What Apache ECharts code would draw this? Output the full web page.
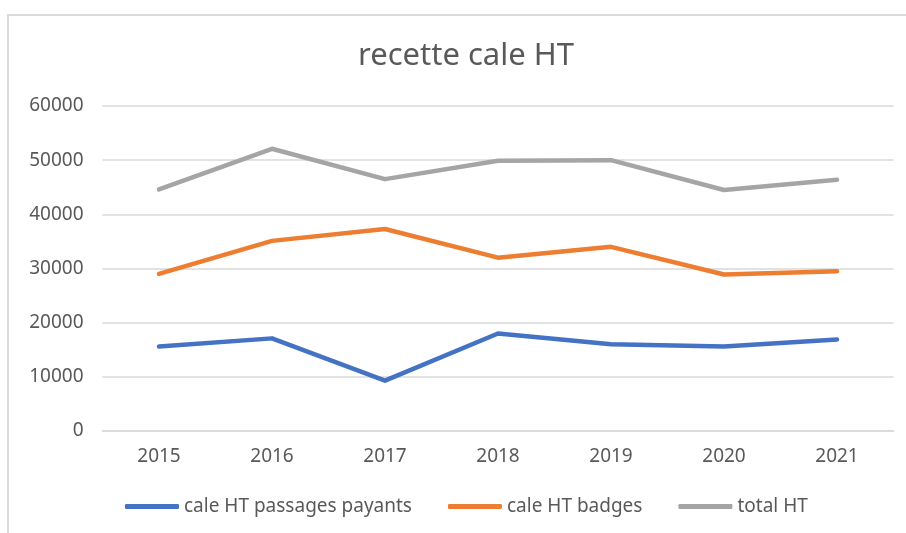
<!DOCTYPE html>
<html>
<head>
<meta charset="utf-8">
<script src="https://cdn.jsdelivr.net/npm/echarts@6/dist/echarts.min.js"></script>
<style>
  html, body { margin: 0; padding: 0; background: #fff; }
  #main { width: 906px; height: 533px; }
</style>
</head>
<body>
<div id="main"></div>
<script>
// données
var annees = ['2015', '2016', '2017', '2018', '2019', '2020', '2021'];
var passagesPayants = [15600, 17100, 9300, 18000, 16000, 15600, 16900];
var badges = [29000, 35100, 37300, 32000, 34000, 28900, 29500];
var totalHT = [44600, 52100, 46500, 49900, 50000, 44500, 46400];

var myChart = echarts.init(document.getElementById('main'));

var police = '"Noto Sans", "Open Sans", sans-serif';

function serie(nom, data, couleur) {
    return {
        name: nom,
        type: 'line',
        data: data,
        symbol: 'none',
        lineStyle: { width: 4.5, color: couleur, cap: 'round', join: 'round' },
        itemStyle: { color: couleur }
    };
}

var option = {
    animation: false,
    backgroundColor: '#fff',
    color: ['#4472C4', '#ED7D31', '#A5A5A5'],
    graphic: [{
        type: 'rect',
        shape: { x: 8, y: 15, width: 1000, height: 700 },
        style: { fill: 'none', stroke: '#d9d9d9', lineWidth: 2 },
        silent: true
    }],
    title: {
        text: 'recette cale HT',
        left: 353,
        top: 36,
        textStyle: { fontFamily: police, fontSize: 31, fontWeight: 'normal', color: '#595959' }
    },
    legend: {
        data: ['cale HT passages payants', 'cale HT badges', 'total HT'],
        left: 120,
        top: 492,
        icon: 'roundRect',
        itemWidth: 54,
        itemHeight: 5,
        itemGap: 36,
        textStyle: { fontFamily: police, fontSize: 19, color: '#595959' }
    },
    grid: { left: 102.5, right: 12.5, top: 106, bottom: 102 },
    xAxis: {
        type: 'category',
        data: annees,
        axisTick: { show: false },
        axisLine: { lineStyle: { color: '#d9d9d9', width: 1.5 } },
        axisLabel: { margin: 16, fontFamily: police, fontSize: 19, color: '#595959' }
    },
    yAxis: {
        type: 'value',
        min: 0,
        max: 60000,
        interval: 10000,
        axisLine: { show: false },
        axisTick: { show: false },
        splitLine: { lineStyle: { color: '#d9d9d9', width: 1.5 } },
        axisLabel: {
            margin: 19, fontFamily: police, fontSize: 19, color: '#595959',
            formatter: function (v) { return String(v); }
        }
    },
    series: [
        serie('cale HT passages payants', passagesPayants, '#4472C4'),
        serie('cale HT badges', badges, '#ED7D31'),
        serie('total HT', totalHT, '#A5A5A5')
    ]
};

myChart.setOption(option);
</script>
</body>
</html>
